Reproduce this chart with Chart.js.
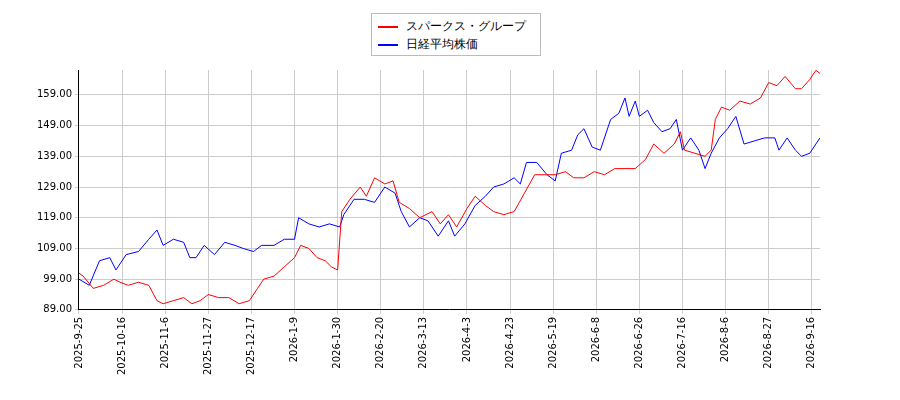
<!DOCTYPE html>
<html>
<head>
<meta charset="utf-8">
<script src="https://cdn.jsdelivr.net/npm/chart.js@4"></script>
<style>
body{margin:0;background:#fff;font-family:"DejaVu Sans",sans-serif;}
#wrap{position:relative;width:900px;height:400px;}
#legend{position:absolute;left:371px;top:13px;width:170px;height:43px;border:1px solid #bbb;background:#fff;font-size:12px;box-sizing:border-box;padding:3px 6px;white-space:nowrap;}
#legend div{height:18px;line-height:18px;}
#legend span{display:inline-block;width:20px;height:0;border-top:2px solid;vertical-align:middle;margin-right:8px;}
</style>
</head>
<body>
<div id="wrap">
<canvas id="c" width="900" height="400"></canvas>
<div id="legend">
<div><span style="border-color:#f00"></span>スパークス・グループ</div>
<div><span style="border-color:#00f"></span>日経平均株価</div>
</div>
</div>
<script>
/* x values are day offsets from the first tick */
var tickLabels = ['2025-9-25','2025-10-16','2025-11-6','2025-11-27','2025-12-17','2026-1-9','2026-1-30','2026-2-20','2026-3-13','2026-4-3','2026-4-23','2026-5-19','2026-6-8','2026-6-26','2026-7-16','2026-8-6','2026-8-27','2026-9-16'];
var sparksDays = [0,2,7,12,17,20,24,29,34,38,41,46,51,55,59,63,68,73,78,83,87,90,95,100,105,108,112,116,120,123,126,128,132,137,140,144,149,153,156,161,166,172,176,180,184,189,193,198,202,207,212,217,222,227,232,237,241,246,251,256,261,266,271,276,280,285,290,293,295,300,305,308,310,313,317,322,327,332,336,340,344,349,352,356,359,361];
var sparksValues = [101,100,96,97,99,98,97,98,97,92,91,92,93,91,92,94,93,93,91,92,96,99,100,103,106,110,109,106,105,103,102,121,125,129,126,132,130,131,124,122,119,121,117,120,116,122,126,123,121,120,121,127,133,133,133,134,132,132,134,133,135,135,135,138,143,140,143,147,141,140,139,141,151,155,154,157,156,158,163,162,165,161,161,164,167,166];
var nikkeiDays = [0,5,10,15,18,23,29,34,38,41,46,51,54,57,61,66,71,76,80,85,89,95,100,105,107,112,117,122,127,129,134,139,144,149,154,157,161,166,170,175,180,183,188,193,198,202,207,212,215,218,223,228,232,235,240,243,246,250,254,259,263,266,268,271,273,277,280,284,288,291,294,298,302,305,308,312,316,320,324,329,334,339,341,345,349,352,356,361];
var nikkeiValues = [99,97,105,106,102,107,108,112,115,110,112,111,106,106,110,107,111,110,109,108,110,110,112,112,119,117,116,117,116,120,125,125,124,129,127,121,116,119,118,113,118,113,117,123,126,129,130,132,130,137,137,133,131,140,141,146,148,142,141,151,153,158,152,157,152,154,150,147,148,151,141,145,141,135,140,145,148,152,143,144,145,145,141,145,141,139,140,145];
var yTicks = [89,99,109,119,129,139,149,159];

function toPoints(days, vals){
	var out = [], i;
	for(i = 0; i < days.length; i++){ out.push({x: days[i], y: vals[i]}); }
	return out;
}

new Chart(document.getElementById('c'), {
	type: 'line',
	data: {datasets: [
		{label: 'スパークス・グループ', data: toPoints(sparksDays, sparksValues), borderColor: '#f00', borderWidth: 1, pointRadius: 0, tension: 0},
		{label: '日経平均株価', data: toPoints(nikkeiDays, nikkeiValues), borderColor: '#00f', borderWidth: 1, pointRadius: 0, tension: 0}
	]},
	options: {
		responsive: false, animation: false,
		layout: {padding: {left: 34, right: 80, top: 70, bottom: 22}},
		plugins: {legend: {display: false}, tooltip: {enabled: false}},
		scales: {
			x: {type: 'linear', min: 0, max: 361,
				afterBuildTicks: function(s){ s.ticks = tickLabels.map(function(l, i){ return {value: i * 21}; }); },
				ticks: {callback: function(v){ return tickLabels[Math.round(v / 21)]; }, maxRotation: 90, minRotation: 90, color: '#000', font: {size: 10, family: 'DejaVu Sans'}},
				grid: {color: '#ccc', tickLength: 4}, border: {color: '#000'}},
			y: {min: 89, max: 167.1,
				afterBuildTicks: function(s){ s.ticks = yTicks.map(function(v){ return {value: v}; }); },
				ticks: {callback: function(v){ return v.toFixed(2); }, color: '#000', font: {size: 10, family: 'DejaVu Sans'}},
				grid: {color: '#ccc', tickLength: 4}, border: {color: '#000'}}
		}
	}
});
</script>
</body>
</html>
